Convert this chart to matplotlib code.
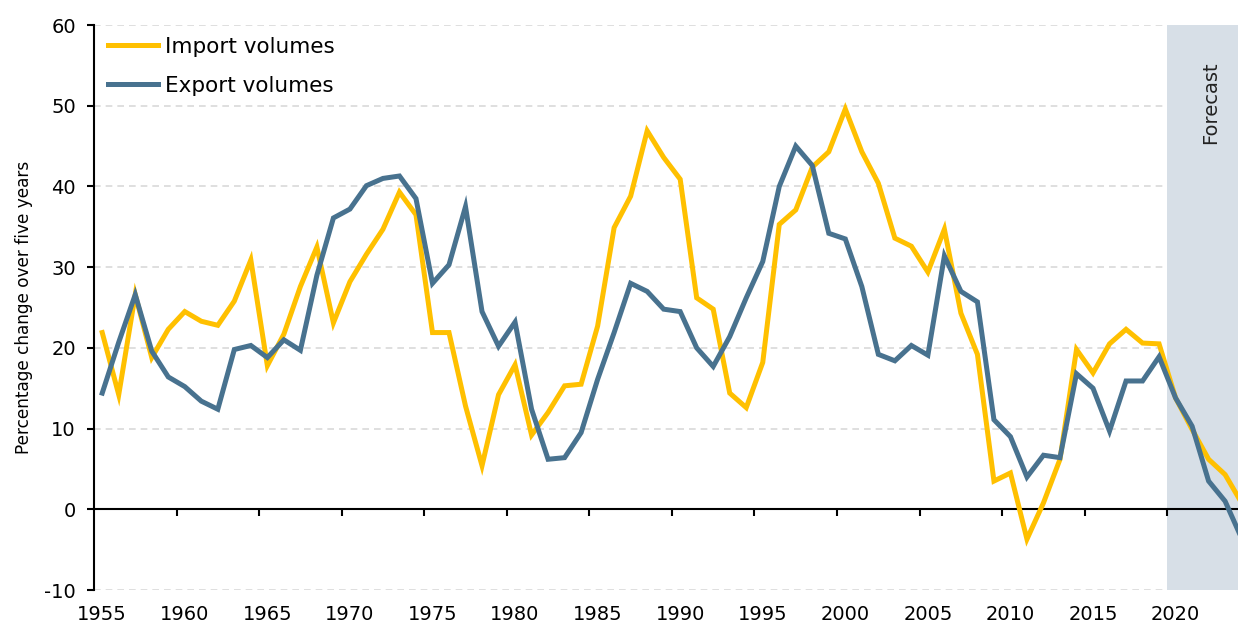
import matplotlib
matplotlib.use("Agg")
import matplotlib.pyplot as plt
import matplotlib.transforms as mtransforms

years = list(range(1955, 2025))

import_volumes = [
    21.9, 14.2, 26.6, 18.8, 22.3, 24.5, 23.3, 22.8, 25.8, 30.9,   # 1955-1964
    17.8, 21.7, 27.6, 32.5, 23.1, 28.2, 31.6, 34.7, 39.3, 36.5,   # 1965-1974
    21.9, 21.9, 12.8, 5.4, 14.2, 17.9, 9.2, 12.0, 15.3, 15.5,     # 1975-1984
    22.7, 34.9, 38.8, 46.9, 43.6, 40.9, 26.2, 24.8, 14.4, 12.6,   # 1985-1994
    18.2, 35.3, 37.1, 42.4, 44.3, 49.6, 44.3, 40.4, 33.6, 32.6,   # 1995-2004
    29.4, 34.7, 24.3, 19.2, 3.5, 4.5, -3.7, 0.8, 6.2, 19.8,       # 2005-2014
    16.9, 20.5, 22.3, 20.6, 20.5, 13.8, 9.9, 6.2, 4.3, 0.8,       # 2015-2024
]

export_volumes = [
    14.4, 20.7, 26.6, 19.6, 16.4, 15.2, 13.4, 12.4, 19.8, 20.3,   # 1955-1964
    18.8, 21.0, 19.7, 29.0, 36.1, 37.2, 40.1, 41.0, 41.3, 38.5,   # 1965-1974
    28.0, 30.3, 37.5, 24.5, 20.2, 23.2, 12.4, 6.2, 6.4, 9.5,      # 1975-1984
    16.1, 21.9, 28.0, 27.0, 24.8, 24.5, 20.0, 17.7, 21.4, 26.2,   # 1985-1994
    30.7, 40.0, 45.0, 42.6, 34.2, 33.5, 27.6, 19.2, 18.4, 20.3,   # 1995-2004
    19.1, 31.4, 27.0, 25.7, 11.1, 9.0, 4.0, 6.7, 6.4, 16.8,       # 2005-2014
    15.0, 9.7, 15.9, 15.9, 18.9, 13.8, 10.3, 3.5, 1.0, -3.6,      # 2015-2024
]

label_years = list(range(1955, 2021, 5))
y_ticks = [-10, 0, 10, 20, 30, 40, 50, 60]
forecast_start = 2020
series_names = ["Import volumes", "Export volumes"]

IMPORT_COLOR = "#FFC000"
EXPORT_COLOR = "#48728F"
SHADE_COLOR = "#D7DFE7"
GRID_COLOR = "#D9D9D9"

plt.rcParams["font.family"] = ["DejaVu Sans"]

fig = plt.figure(figsize=(12.38, 6.27), dpi=100)
ax = fig.add_axes([0.0759, 0.059, 1.0 - 0.0759, 0.960 - 0.059])

x_min, x_max = years[0] - 0.5, 2023.78
ax.set_xlim(x_min, x_max)
ax.set_ylim(-10, 60)

# gridlines (dashed), not at zero
for v in y_ticks:
    if v != 0:
        ax.axhline(v, color=GRID_COLOR, lw=1.2, ls=(0, (4, 3)), zorder=0)

# forecast shading
ax.axvspan(forecast_start - 0.5, x_max + 1, color=SHADE_COLOR, lw=0, zorder=1)
ax.text(2022.1, 55.5, "Forecast", rotation=90, ha="center", va="top",
        fontsize=14, color="#222222", zorder=5)

ax.plot(years, import_volumes, color=IMPORT_COLOR, lw=3.6, label=series_names[0],
        zorder=4, solid_joinstyle="miter")
ax.plot(years, export_volumes, color=EXPORT_COLOR, lw=3.6, label=series_names[1],
        zorder=4, solid_joinstyle="miter")

# spines
for s in ["top", "right"]:
    ax.spines[s].set_visible(False)
ax.spines["left"].set_color("black")
ax.spines["left"].set_linewidth(1.5)
ax.spines["bottom"].set_position(("data", 0))
ax.spines["bottom"].set_color("black")
ax.spines["bottom"].set_linewidth(1.5)
ax.spines["bottom"].set_zorder(3)

# x ticks at category boundaries on the zero line, no labels there
ax.set_xticks([y - 0.5 for y in label_years[1:]])
ax.tick_params(axis="x", direction="out", length=5, width=1.5, labelbottom=False)

# year labels at the bottom
trans = mtransforms.blended_transform_factory(ax.transData, ax.transAxes)
for y in label_years:
    ax.text(y, -0.027, str(y), transform=trans, ha="center", va="top",
            fontsize=14, color="black")

ax.set_yticks(y_ticks)
ax.set_yticklabels([str(v) for v in y_ticks])
ax.tick_params(axis="y", direction="out", length=5, width=1.5, labelsize=14, pad=8)
ax.set_ylabel("Percentage change over five years", fontsize=12.2, labelpad=8)

leg = ax.legend(loc="upper left", frameon=False, fontsize=15.5, handlelength=2.3,
                handletextpad=0.35, labelspacing=0.9, borderaxespad=0.0,
                bbox_to_anchor=(0.005, 0.995))

fig.savefig("out.png", dpi=100)
